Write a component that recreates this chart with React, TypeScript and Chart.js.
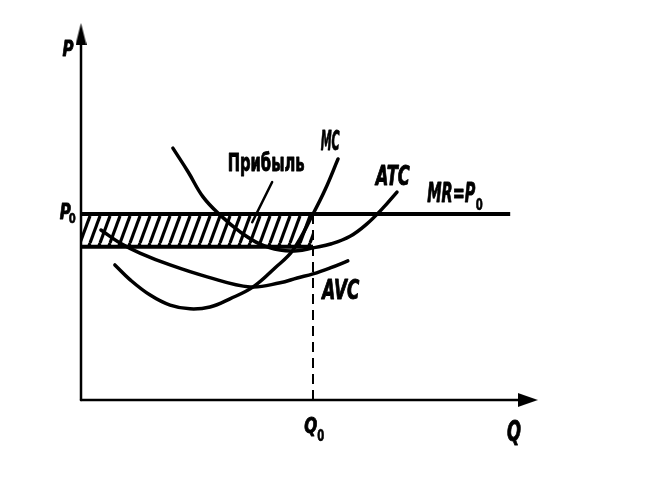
import React, { useEffect, useRef } from "react";
import { Chart, registerables } from "chart.js";

Chart.register(...registerables);

// Economic values (Q = quantity, P = price)
const P0 = 5.0;
const Q0 = 5.0;
const ATC_AT_Q0 = 4.12;

const mcQ = [0.73, 1.06, 1.49, 1.92, 2.35, 2.78, 3.21, 3.71, 4.18, 4.57, 5.0, 5.26, 5.54];
const mcP = [3.63, 3.23, 2.82, 2.55, 2.45, 2.5, 2.72, 3.04, 3.55, 4.03, 5.0, 5.65, 6.48];

const atcQ = [1.98, 2.31, 2.63, 3.0, 3.43, 3.86, 4.29, 4.66, 5.0, 5.4, 5.8, 6.15, 6.5, 6.81];
const atcP = [6.77, 6.13, 5.46, 4.97, 4.52, 4.19, 4.03, 4.01, 4.09, 4.2, 4.4, 4.72, 5.15, 5.59];

const avcQ = [0.43, 0.84, 1.27, 1.92, 2.72, 3.64, 4.29, 4.66, 5.0, 5.37, 5.75];
const avcP = [4.57, 4.22, 3.95, 3.63, 3.31, 3.04, 3.15, 3.28, 3.39, 3.55, 3.74];

const mrQ = [0, 9.25];
const axisQMax = 9.63;
const axisPMax = 9.84;
const pointerQ = [3.69, 4.12];
const pointerP = [4.78, 5.86];

const toPts = (xs: number[], ys: number[]) => xs.map((x, i) => ({ x, y: ys[i] }));

const FONT = '"Liberation Sans Narrow", "DejaVu Sans Condensed", "Liberation Sans", sans-serif';

type Label = {
  text: string;
  sub?: string;
  q: number;
  p: number;
  size: number;
  w: number;
  italic?: boolean;
  subDx?: number;
  subDy?: number;
  subSize?: number;
};

const labels: Label[] = [
  { text: "P", q: -0.28, p: 9.41, size: 22, w: 11, italic: true },
  { text: "P", sub: "0", q: -0.34, p: 5.03, size: 22, w: 11, italic: true, subDx: 7, subDy: 6, subSize: 14 },
  { text: "Прибыль", q: 3.99, p: 6.32, size: 25, w: 77 },
  { text: "MC", q: 5.37, p: 6.9, size: 26, w: 19, italic: true },
  { text: "ATC", q: 6.72, p: 5.97, size: 26, w: 34, italic: true },
  { text: "MR=P", sub: "0", q: 7.98, p: 5.51, size: 26, w: 48, italic: true, subDx: 28, subDy: 11, subSize: 16 },
  { text: "AVC", q: 5.6, p: 2.9, size: 26, w: 37, italic: true },
  { text: "Q", sub: "0", q: 4.95, p: -0.75, size: 21, w: 13, italic: true, subDx: 10, subDy: 9, subSize: 15 },
  { text: "Q", q: 9.33, p: -0.91, size: 28, w: 14, italic: true },
];

const labelPlugin = {
  id: "econLabels",
  afterDatasetsDraw(chart: any) {
    const ctx = chart.ctx as CanvasRenderingContext2D;
    const xs = chart.scales.x;
    const ys = chart.scales.y;
    ctx.save();
    ctx.fillStyle = "#000";
    ctx.strokeStyle = "#000";
    ctx.lineJoin = "round";
    ctx.textAlign = "center";
    ctx.textBaseline = "middle";
    for (const l of labels) {
      const px = xs.getPixelForValue(l.q);
      const py = ys.getPixelForValue(l.p);
      ctx.font = `${l.italic ? "italic " : ""}bold ${l.size}px ${FONT}`;
      const mw = ctx.measureText(l.text).width;
      const sx = l.w / mw;
      ctx.save();
      ctx.translate(px, py);
      ctx.scale(sx, 1);
      ctx.lineWidth = 0.9;
      ctx.fillText(l.text, 0, 0);
      ctx.strokeText(l.text, 0, 0);
      ctx.restore();
      if (l.sub) {
        ctx.font = `bold ${l.subSize || 12}px ${FONT}`;
        const sw = ctx.measureText(l.sub).width;
        ctx.save();
        ctx.translate(px + (l.subDx || 0), py + (l.subDy || 0));
        ctx.scale(Math.min(1, 7 / sw), 1);
        ctx.lineWidth = 0.6;
        ctx.fillText(l.sub, 0, 0);
        ctx.strokeText(l.sub, 0, 0);
        ctx.restore();
      }
    }
    ctx.restore();
  },
};

function makeHatch(): CanvasPattern | string {
  const c = document.createElement("canvas");
  const w = 10;
  const h = 27;
  c.width = w;
  c.height = h;
  const g = c.getContext("2d");
  if (!g) return "rgba(0,0,0,0.3)";
  g.strokeStyle = "#000";
  g.lineWidth = 3.2;
  for (const off of [-w, 0, w]) {
    g.beginPath();
    g.moveTo(off, h);
    g.lineTo(off + w, 0);
    g.stroke();
  }
  const pat = g.createPattern(c, "repeat");
  return pat || "rgba(0,0,0,0.3)";
}

function makeArrow(dir: "up" | "right"): HTMLCanvasElement {
  const c = document.createElement("canvas");
  const g = c.getContext("2d")!;
  if (dir === "up") {
    c.width = 11;
    c.height = 22;
    g.fillStyle = "#000";
    g.beginPath();
    g.moveTo(5.5, 0);
    g.lineTo(11, 22);
    g.lineTo(0, 22);
    g.closePath();
    g.fill();
  } else {
    c.width = 20;
    c.height = 14;
    g.fillStyle = "#000";
    g.beginPath();
    g.moveTo(20, 7);
    g.lineTo(0, 0);
    g.lineTo(0, 14);
    g.closePath();
    g.fill();
  }
  return c;
}

export default function App() {
  const ref = useRef<HTMLCanvasElement>(null);

  useEffect(() => {
    if (!ref.current) return;
    const hatch = makeHatch();
    const upArrow = makeArrow("up");
    const rightArrow = makeArrow("right");

    const line = (data: any[], extra: any = {}) => ({
      data,
      borderColor: "#000",
      borderWidth: 4,
      pointRadius: 0,
      fill: false,
      tension: 0.4,
      borderCapStyle: "round",
      ...extra,
    });

    const chart = new Chart(ref.current, {
      type: "line",
      data: {
        datasets: [
          // 0: profit top (MR = P0 over [0, Q0]) filled with hatch down to dataset 1
          line(
            [
              { x: 0, y: P0 },
              { x: Q0, y: P0 },
            ],
            { borderWidth: 0, tension: 0, fill: { target: 1 }, backgroundColor: hatch }
          ),
          // 1: profit bottom (ATC at Q0)
          line(
            [
              { x: 0, y: ATC_AT_Q0 },
              { x: Q0, y: ATC_AT_Q0 },
            ],
            { tension: 0, borderCapStyle: "butt" }
          ),
          // 2: MR = P0
          line(toPts(mrQ, [P0, P0]), { tension: 0, borderCapStyle: "butt" }),
          // 3: MC
          line(toPts(mcQ, mcP), { borderWidth: 3.5 }),
          // 4: ATC
          line(toPts(atcQ, atcP), { borderWidth: 3.5 }),
          // 5: AVC
          line(toPts(avcQ, avcP), { borderWidth: 3.5 }),
          // 6: Q0 dashed
          line(
            [
              { x: Q0, y: 0 },
              { x: Q0, y: P0 },
            ],
            { borderWidth: 2, borderDash: [10, 6], tension: 0, borderCapStyle: "butt" }
          ),
          // 7: pointer for "Прибыль"
          line(toPts(pointerQ, pointerP), { borderWidth: 2.5, tension: 0 }),
          // 8: P axis
          line(
            [
              { x: 0, y: 0 },
              { x: 0, y: axisPMax },
            ],
            { borderWidth: 2.5, tension: 0, pointRadius: [0, 6], pointStyle: ["circle", upArrow] }
          ),
          // 9: Q axis
          line(
            [
              { x: 0, y: 0 },
              { x: axisQMax, y: 0 },
            ],
            { borderWidth: 2.5, tension: 0, pointRadius: [0, 6], pointStyle: ["circle", rightArrow] }
          ),
        ],
      },
      options: {
        animation: false,
        responsive: true,
        maintainAspectRatio: false,
        layout: { padding: 0, autoPadding: false },
        plugins: { legend: { display: false }, tooltip: { enabled: false } },
        events: [],
        scales: {
          x: { type: "linear", min: -81 / 46.4, max: (662 - 81) / 46.4, display: false },
          y: { type: "linear", min: -(488 - 400) / 37.2, max: 400 / 37.2, display: false },
        },
      },
      plugins: [labelPlugin],
    } as any);

    return () => chart.destroy();
  }, []);

  return (
    <div style={{ position: "fixed", left: 0, top: 0, width: 662, height: 488, background: "#fff" }}>
      <canvas ref={ref} />
    </div>
  );
}
